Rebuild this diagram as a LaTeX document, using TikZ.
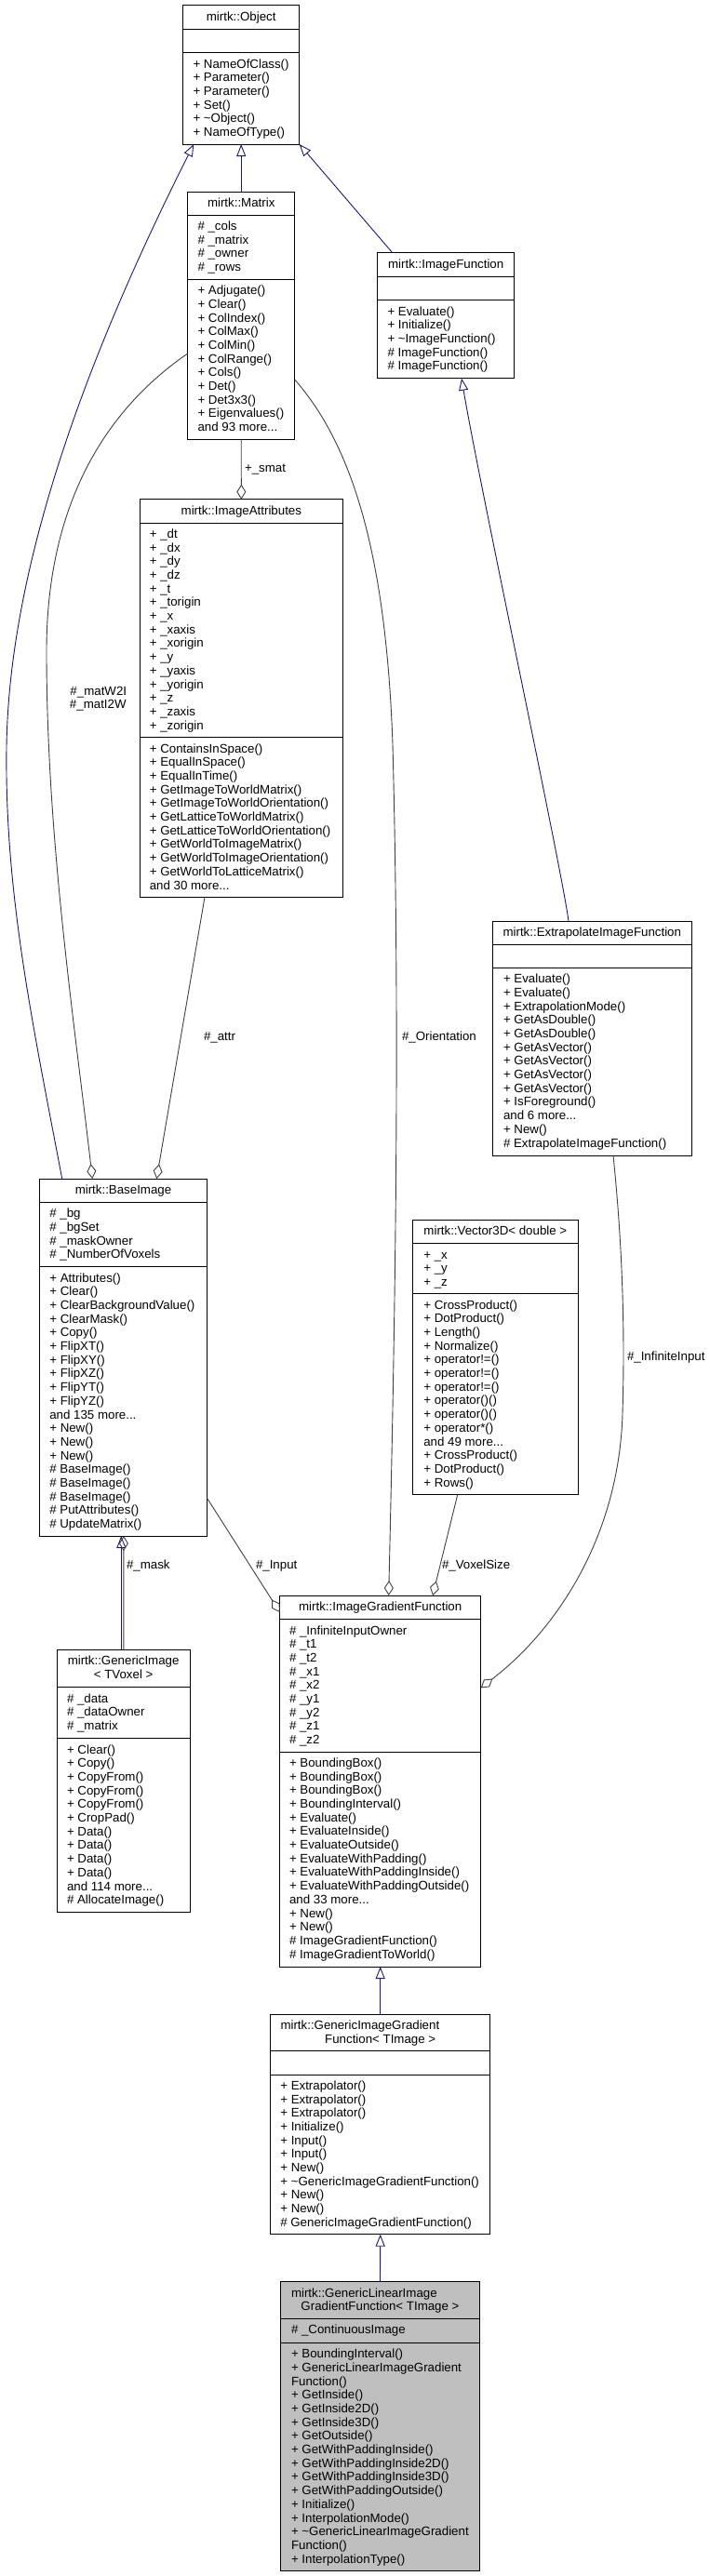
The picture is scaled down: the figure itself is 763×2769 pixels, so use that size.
\documentclass[tikz,border=0pt]{standalone}
\usepackage{fontspec}
\setmainfont{Liberation Sans}
\usetikzlibrary{arrows.meta,calc}
\definecolor{inhblue}{HTML}{191970}
\definecolor{agggray}{HTML}{404040}
\definecolor{hlfill}{HTML}{BFBFBF}
\newcommand\mdots{...}
\newcommand\mlines[4]{\foreach \mtext [count=\mi from 0] in {#4} {\node[txt, anchor=base west] (#1-\mi) at (#2, #3+\mi*14.7) {\mtext};}}
\newcommand\clsbox[6]{\node[clsbox, #6, anchor=north west, minimum width={(#4-#2)*1pt}, minimum height={(#5-#3)*1pt}] (#1) at (#2,#3) {};}
\newcommand\sepl[3]{\draw[sepline] (#1,#3) -- (#2,#3);}
\begin{document}
\begin{tikzpicture}[x=1pt, y=-1pt,
  clsbox/.style={draw=black, line width=1pt, inner sep=0pt, outer sep=0pt, fill=white},
  sepline/.style={draw=black, line width=1pt},
  txt/.style={font=\fontsize{13.3}{14.7}\selectfont, inner sep=0pt, outer sep=0pt, text=black},
  inh/.style={draw=inhblue, line width=0.9pt, -{Triangle[open, length=13pt, width=10pt]}},
  agg/.style={draw=agggray, line width=0.9pt, -{Diamond[open, length=16pt, width=10pt]}}]
\useasboundingbox (0,0) rectangle (763,2769);

% ---------- mirtk::Object
\clsbox{obj}{196.7}{5.7}{321.7}{155}{}
\sepl{196.7}{321.7}{31}\sepl{196.7}{321.7}{56.7}
\node[txt, anchor=base] (obj-t) at (259.2,22) {mirtk::Object};
\mlines{objm}{207.5}{73}{{+ NameOfClass()},{+ Parameter()},{+ Parameter()},{+ Set()},{+ \textasciitilde Object()},{+ NameOfType()}}

% ---------- mirtk::Matrix
\clsbox{mat}{201.7}{206}{316.7}{472.7}{}
\sepl{201.7}{316.7}{231}\sepl{201.7}{316.7}{300.3}
\node[txt, anchor=base] (mat-t) at (259.2,222.3) {mirtk::Matrix};
\mlines{mata}{212.5}{247.3}{{\# \_cols},{\# \_matrix},{\# \_owner},{\# \_rows}}
\mlines{matm}{212.5}{316.6}{{+ Adjugate()},{+ Clear()},{+ ColIndex()},{+ ColMax()},{+ ColMin()},{+ ColRange()},{+ Cols()},{+ Det()},{+ Det3x3()},{+ Eigenvalues()},{and 93 more\mdots}}

% ---------- mirtk::ImageFunction
\clsbox{ifn}{405.7}{271.7}{552.7}{406.7}{}
\sepl{405.7}{552.7}{297}\sepl{405.7}{552.7}{322.7}
\node[txt, anchor=base] (ifn-t) at (479.2,288) {mirtk::ImageFunction};
\mlines{ifnm}{416.5}{339}{{+ Evaluate()},{+ Initialize()},{+ \textasciitilde ImageFunction()},{\# ImageFunction()},{\# ImageFunction()}}

% ---------- mirtk::ImageAttributes
\clsbox{ia}{150}{536.7}{368.7}{964.3}{}
\sepl{150}{368.7}{562}\sepl{150}{368.7}{792.7}
\node[txt, anchor=base] (ia-t) at (259.35,553) {mirtk::ImageAttributes};
\mlines{iaa}{160.8}{578.3}{{+ \_dt},{+ \_dx},{+ \_dy},{+ \_dz},{+ \_t},{+ \_torigin},{+ \_x},{+ \_xaxis},{+ \_xorigin},{+ \_y},{+ \_yaxis},{+ \_yorigin},{+ \_z},{+ \_zaxis},{+ \_zorigin}}
\mlines{iam}{160.8}{809}{{+ ContainsInSpace()},{+ EqualInSpace()},{+ EqualInTime()},{+ GetImageToWorldMatrix()},{+ GetImageToWorldOrientation()},{+ GetLatticeToWorldMatrix()},{+ GetLatticeToWorldOrientation()},{+ GetWorldToImageMatrix()},{+ GetWorldToImageOrientation()},{+ GetWorldToLatticeMatrix()},{and 30 more\mdots}}

% ---------- mirtk::ExtrapolateImageFunction
\clsbox{eif}{529.3}{990}{743.3}{1242}{}
\sepl{529.3}{743.3}{1015}\sepl{529.3}{743.3}{1040.3}
\node[txt, anchor=base] (eif-t) at (636.3,1006.3) {mirtk::ExtrapolateImageFunction};
\mlines{eifm}{541}{1056.6}{{+ Evaluate()},{+ Evaluate()},{+ ExtrapolationMode()},{+ GetAsDouble()},{+ GetAsDouble()},{+ GetAsVector()},{+ GetAsVector()},{+ GetAsVector()},{+ GetAsVector()},{+ IsForeground()},{and 6 more\mdots},{+ New()},{\# ExtrapolateImageFunction()}}

% ---------- mirtk::Vector3D< double >
\clsbox{v3d}{443.7}{1311}{621}{1606.7}{}
\sepl{443.7}{621}{1336.7}\sepl{443.7}{621}{1390.7}
\node[txt, anchor=base] (v3d-t) at (532.35,1327.3) {mirtk::Vector3D< double >};
\mlines{v3da}{455.3}{1353}{{+ \_x},{+ \_y},{+ \_z}}
\mlines{v3dm}{455.3}{1407}{{+ CrossProduct()},{+ DotProduct()},{+ Length()},{+ Normalize()},{+ operator!=()},{+ operator!=()},{+ operator!=()},{+ operator()()},{+ operator()()},{+ operator*()},{and 49 more\mdots},{+ CrossProduct()},{+ DotProduct()},{+ Rows()}}

% ---------- mirtk::BaseImage
\clsbox{bi}{42.7}{1267}{222.3}{1651}{}
\sepl{42.7}{222.3}{1292.3}\sepl{42.7}{222.3}{1361.7}
\node[txt, anchor=base] (bi-t) at (132.5,1283.3) {mirtk::BaseImage};
\mlines{bia}{53.3}{1308.6}{{\# \_bg},{\# \_bgSet},{\# \_maskOwner},{\# \_NumberOfVoxels}}
\mlines{bim}{53.3}{1378}{{+ Attributes()},{+ Clear()},{+ ClearBackgroundValue()},{+ ClearMask()},{+ Copy()},{+ FlipXT()},{+ FlipXY()},{+ FlipXZ()},{+ FlipYT()},{+ FlipYZ()},{and 135 more\mdots},{+ New()},{+ New()},{+ New()},{\# BaseImage()},{\# BaseImage()},{\# BaseImage()},{\# PutAttributes()},{\# UpdateMatrix()}}

% ---------- mirtk::GenericImage< TVoxel >
\clsbox{gi}{61.3}{1773.3}{204}{2055}{}
\sepl{61.3}{204}{1813.7}\sepl{61.3}{204}{1868.7}
\node[txt, anchor=base] (gi-t1) at (132.65,1789.6) {mirtk::GenericImage};
\node[txt, anchor=base] (gi-t2) at (132.65,1804.3) {< TVoxel >};
\mlines{gia}{72}{1830}{{\# \_data},{\# \_dataOwner},{\# \_matrix}}
\mlines{gim}{72}{1885}{{+ Clear()},{+ Copy()},{+ CopyFrom()},{+ CopyFrom()},{+ CopyFrom()},{+ CropPad()},{+ Data()},{+ Data()},{+ Data()},{+ Data()},{and 114 more\mdots},{\# AllocateImage()}}

% ---------- mirtk::ImageGradientFunction
\clsbox{igf}{300.7}{1715}{516.7}{2114}{}
\sepl{300.7}{516.7}{1740.7}\sepl{300.7}{516.7}{1883}
\node[txt, anchor=base] (igf-t) at (408.7,1731.3) {mirtk::ImageGradientFunction};
\mlines{igfa}{311}{1757}{{\# \_InfiniteInputOwner},{\# \_t1},{\# \_t2},{\# \_x1},{\# \_x2},{\# \_y1},{\# \_y2},{\# \_z1},{\# \_z2}}
\mlines{igfm}{311}{1899.3}{{+ BoundingBox()},{+ BoundingBox()},{+ BoundingBox()},{+ BoundingInterval()},{+ Evaluate()},{+ EvaluateInside()},{+ EvaluateOutside()},{+ EvaluateWithPadding()},{+ EvaluateWithPaddingInside()},{+ EvaluateWithPaddingOutside()},{and 33 more\mdots},{+ New()},{+ New()},{\# ImageGradientFunction()},{\# ImageGradientToWorld()}}

% ---------- mirtk::GenericImageGradientFunction< TImage >
\clsbox{gigf}{290.7}{2165}{526.7}{2401.7}{}
\sepl{290.7}{526.7}{2204.3}\sepl{290.7}{526.7}{2230}
\node[txt, anchor=base west] (gigf-t1) at (301.5,2181.3) {mirtk::GenericImageGradient};
\node[txt, anchor=base] (gigf-t2) at (408.7,2196) {Function< TImage >};
\mlines{gigfm}{301.3}{2246.3}{{+ Extrapolator()},{+ Extrapolator()},{+ Extrapolator()},{+ Initialize()},{+ Input()},{+ Input()},{+ New()},{+ \textasciitilde GenericImageGradientFunction()},{+ New()},{+ New()},{\# GenericImageGradientFunction()}}

% ---------- mirtk::GenericLinearImageGradientFunction< TImage >
\clsbox{gligf}{301.7}{2452.7}{515.3}{2763.3}{fill=hlfill}
\sepl{301.7}{515.3}{2492.3}\sepl{301.7}{515.3}{2518.3}
\node[txt, anchor=base west] (gligf-t1) at (313,2469) {mirtk::GenericLinearImage};
\node[txt, anchor=base] (gligf-t2) at (408.5,2483.7) {GradientFunction< TImage >};
\mlines{gligfa}{313}{2508.6}{{\# \_ContinuousImage}}
\mlines{gligfm}{313}{2534.6}{{+ BoundingInterval()},{+ GenericLinearImageGradient},{Function()},{+ GetInside()},{+ GetInside2D()},{+ GetInside3D()},{+ GetOutside()},{+ GetWithPaddingInside()},{+ GetWithPaddingInside2D()},{+ GetWithPaddingInside3D()},{+ GetWithPaddingOutside()},{+ Initialize()},{+ InterpolationMode()},{+ \textasciitilde GenericLinearImageGradient},{Function()},{+ InterpolationType()}}

% ---------- attachment points
\coordinate (obj-bl) at ($(obj.south west)+(11.5,0)$);
\coordinate (ifn-top) at ($(ifn.north west)+(16,0)$);
\coordinate (bi-o) at ($(bi.north west)+(24,0)$);
\coordinate (mat-l) at ($(mat.north west)+(0,174)$);
\coordinate (bi-d1) at ($(bi.north west)+(56.6,0)$);
\coordinate (ia-b) at ($(ia.south west)+(70,0)$);
\coordinate (bi-d2) at ($(bi.north west)+(125.6,0)$);
\coordinate (mat-r) at ($(mat.north east)+(0,202)$);
\coordinate (igf-d1) at ($(igf.north west)+(117,0)$);
\coordinate (eif-top) at ($(eif.north west)+(81.7,0)$);
\coordinate (ifn-b) at ($(ifn.south west)+(90.3,0)$);
\coordinate (eif-b) at ($(eif.south west)+(129.7,0)$);
\coordinate (igf-r) at ($(igf.north east)+(0,99.3)$);
\coordinate (v3d-b) at ($(v3d.south west)+(48,0)$);
\coordinate (igf-d2) at ($(igf.north west)+(164.3,0)$);
\coordinate (bi-r) at ($(bi.north east)+(0,343)$);
\coordinate (igf-l) at ($(igf.north west)+(0,18)$);
\coordinate (gi-t-a) at ($(gi.north west)+(69,0)$);
\coordinate (bi-b-a) at ($(bi.south west)+(87.6,0)$);
\coordinate (gi-t-b) at ($(gi.north west)+(71.6,0)$);
\coordinate (bi-b-b) at ($(bi.south west)+(90.2,0)$);

% ---------- inheritance
\draw[inh] (mat.north) -- (obj.south);
\draw[inh] (ifn-top) -- (obj.south east);
\draw[inh] (bi-o) .. controls (35,1100) and (5,960) .. (7,803) .. controls (10,600) and (100,370) .. (obj-bl);
\draw[inh] (eif-top) .. controls (603,930) and (515,520) .. (ifn-b);
\draw[inh] (gi-t-a) -- (bi-b-a);
\draw[inh] (gigf.north) -- (igf.south);
\draw[inh] (gligf.north) -- (gigf.south);

% ---------- aggregation
\draw[agg] (mat.south) -- (ia.north);
\draw[agg] (mat-l) .. controls (100,450) and (50,560) .. (50,700) .. controls (50,900) and (80,1100) .. (bi-d1);
\draw[agg] (ia-b) -- (bi-d2);
\draw[agg] (mat-r) .. controls (380,480) and (415,600) .. (422,800) .. controls (430,1100) and (425,1400) .. (igf-d1);
\draw[agg] (eif-b) .. controls (668,1330) and (672,1420) .. (669,1520) .. controls (665,1650) and (600,1750) .. (igf-r);
\draw[agg] (v3d-b) -- (igf-d2);
\draw[agg] (bi-r) -- (igf-l);
\draw[agg] (gi-t-b) -- (bi-b-b);

% ---------- labels
\node[txt, anchor=base west] (l-smat) at (263,507.5) {+\_smat};
\node[txt, anchor=base] (l-w2i) at (105.8,747.2) {\#\_matW2I};
\node[txt, anchor=base] (l-i2w) at (105.3,761.2) {\#\_matI2W};
\node[txt, anchor=base west] (l-attr) at (219,1118.8) {\#\_attr};
\node[txt, anchor=base west] (l-orient) at (432,1118.6) {\#\_Orientation};
\node[txt, anchor=base west] (l-inf) at (674,1462.8) {\#\_InfiniteInput};
\node[txt, anchor=base west] (l-vox) at (475,1686.8) {\#\_VoxelSize};
\node[txt, anchor=base west] (l-input) at (275,1686.8) {\#\_Input};
\node[txt, anchor=base west] (l-mask) at (136,1686.8) {\#\_mask};
\end{tikzpicture}
\end{document}
